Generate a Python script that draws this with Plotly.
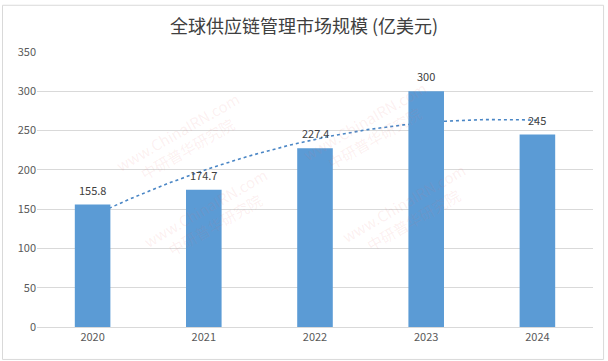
import numpy as np
import plotly.graph_objects as go

years = ["2020", "2021", "2022", "2023", "2024"]
values = [155.8, 174.7, 227.4, 300, 245]
value_labels = ["155.8", "174.7", "227.4", "300", "245"]
y_ticks = [0, 50, 100, 150, 200, 250, 300, 350]
title = "全球供应链管理市场规模 (亿美元)"

# quadratic trendline (as in the original spreadsheet chart)
xi = np.arange(len(values))
coef = np.polyfit(xi, values, 2)
xs = np.linspace(0, len(values) - 1, 200)
trend = np.polyval(coef, xs)

FONT = "Noto Sans CJK SC, Microsoft YaHei, sans-serif"
BAR = "#5B9BD5"
XR = [-0.5, len(values) - 0.5]
YR = [0, 350]

fig = go.Figure()
# trendline on the base subplot (drawn underneath)
fig.add_trace(go.Scatter(
    x=xs, y=trend, mode="lines",
    line=dict(color="#4A86C5", width=1.6, dash="dot"),
    hoverinfo="skip", showlegend=False, xaxis="x", yaxis="y"))
# bars on an overlaying subplot so they cover the trendline
fig.add_trace(go.Bar(
    x=xi, y=values, marker=dict(color=BAR, line=dict(width=0)),
    width=0.32, showlegend=False, xaxis="x2", yaxis="y2"))

for i, (v, t) in enumerate(zip(values, value_labels)):
    fig.add_annotation(x=i, y=v, text=t, showarrow=False, yshift=15,
                       font=dict(size=11, color="#404040", family=FONT))

# faint watermarks
wm = [(0.13, 0.88), (0.73, 0.92), (0.18, 0.20), (0.80, 0.22)]
for (px, py) in wm:
    fig.add_annotation(xref="paper", yref="paper", x=px, y=py,
                       text="www.ChinaIRN.com<br>中研普华研究院", showarrow=False,
                       textangle=-30, font=dict(size=15, color="rgba(225,110,110,0.10)", family=FONT))

fig.update_layout(
    width=608, height=361,
    margin=dict(l=37, r=15, t=52, b=34),
    paper_bgcolor="white", plot_bgcolor="white",
    title=dict(text=title, x=0.5, xanchor="center", y=0.925, yanchor="middle",
               font=dict(size=18, color="#404040", family=FONT)),
    xaxis=dict(range=XR, tickvals=list(xi), ticktext=years,
               showgrid=False, showline=True, linecolor="#D9D9D9", zeroline=False,
               ticks="", tickfont=dict(size=11, color="#595959", family=FONT)),
    yaxis=dict(range=YR, tickvals=y_ticks, showgrid=True, gridcolor="#D9D9D9",
               gridwidth=1, zeroline=False, showline=False, ticks="",
               tickfont=dict(size=11, color="#595959", family=FONT)),
    xaxis2=dict(overlaying="x", range=XR, visible=False),
    yaxis2=dict(overlaying="y", range=YR, visible=False),
    shapes=[dict(type="rect", xref="paper", yref="paper",
                 x0=-0.062, x1=1.019, y0=-0.118, y1=1.17,
                 line=dict(color="#D9D9D9", width=1))],
)

fig.write_html("out.html")
